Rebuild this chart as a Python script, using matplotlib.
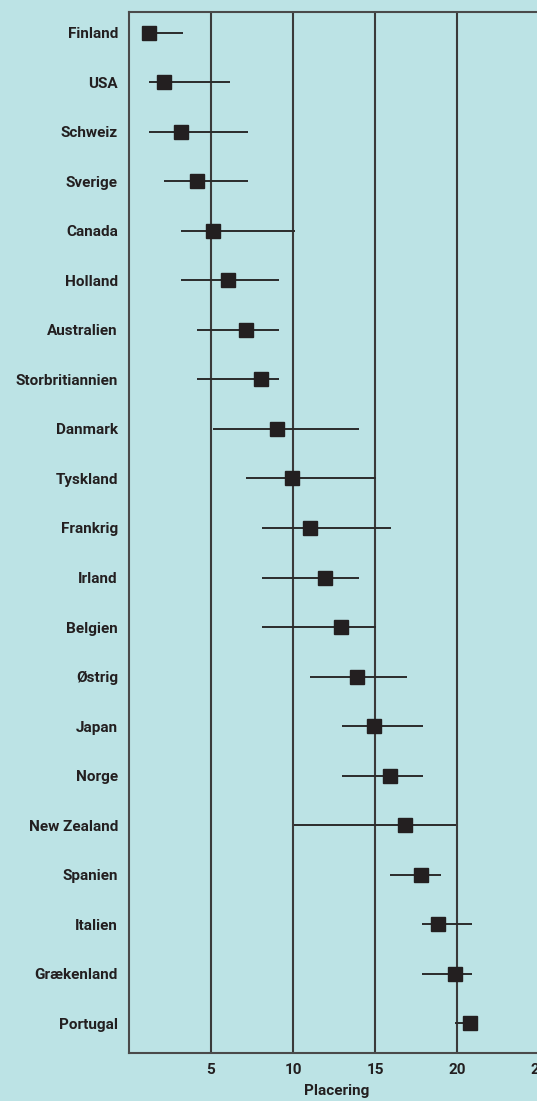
# Placering med usikkerhedsinterval pr. land
import matplotlib.pyplot as plt

lande = ["Finland", "USA", "Schweiz", "Sverige", "Canada", "Holland", "Australien",
         "Storbritiannien", "Danmark", "Tyskland", "Frankrig", "Irland", "Belgien",
         "Østrig", "Japan", "Norge", "New Zealand", "Spanien", "Italien",
         "Grækenland", "Portugal"]
placering = [1.2, 2.15, 3.2, 4.15, 5.15, 6.05, 7.15, 8.05, 9.05, 9.95, 11.05, 11.95,
             12.95, 13.9, 14.95, 15.9, 16.85, 17.8, 18.85, 19.85, 20.8]
nedre = [1.0, 1.2, 1.2, 2.15, 3.2, 3.2, 4.15, 4.15, 5.15, 7.15, 8.1, 8.1, 8.1,
         11.05, 13.0, 13.0, 10.05, 15.9, 17.85, 17.85, 19.9]
oevre = [3.3, 6.15, 7.25, 7.25, 10.1, 9.15, 9.15, 9.15, 14.0, 15.05, 16.0, 14.0,
         15.05, 16.95, 17.9, 17.9, 19.95, 19.0, 20.9, 20.9, 20.8]
xticks = [5, 10, 15, 20, 25]

bg = "#bce3e5"
ink = "#231f20"

fig = plt.figure(figsize=(5.37, 11.01), dpi=100, facecolor=bg)
ax = fig.add_axes([129 / 537, 48.3 / 1101, 431 / 537, 1041 / 1101])
ax.set_facecolor(bg)

y = list(range(len(lande)))
ax.hlines(y, nedre, oevre, color="#2b2b2b", linewidth=1.4, zorder=3)
ax.plot(placering, y, linestyle="none", marker="s", markersize=9.4,
        color=ink, zorder=4)

ax.set_xlim(0, 431 / 16.4)
ax.set_ylim(20.594, -0.424)
ax.set_xticks(xticks)
ax.set_yticks(y)
ax.set_yticklabels(lande)
ax.grid(axis="x", color="#3a3a3a", linewidth=1.5, zorder=1)
ax.grid(axis="y", visible=False)

for s in ["top", "bottom", "left"]:
    ax.spines[s].set_color("#4a4a4a")
    ax.spines[s].set_linewidth(1.5)
ax.spines["right"].set_visible(False)

fnt = dict(family=["Roboto", "DejaVu Sans"], size=11, weight="bold")
ax.tick_params(axis="both", length=0, colors=ink)
ax.tick_params(axis="y", pad=8)
ax.tick_params(axis="x", pad=7.5)
for lbl in ax.get_xticklabels() + ax.get_yticklabels():
    lbl.set_fontfamily(fnt["family"])
    lbl.set_fontsize(fnt["size"])
    lbl.set_fontweight(fnt["weight"])

ax.set_xlabel("Placering", color=ink, **fnt)
ax.xaxis.set_label_coords((336.7 - 129) / 431, -0.030)

plt.savefig("out.png", dpi=100, facecolor=bg)
plt.close()
